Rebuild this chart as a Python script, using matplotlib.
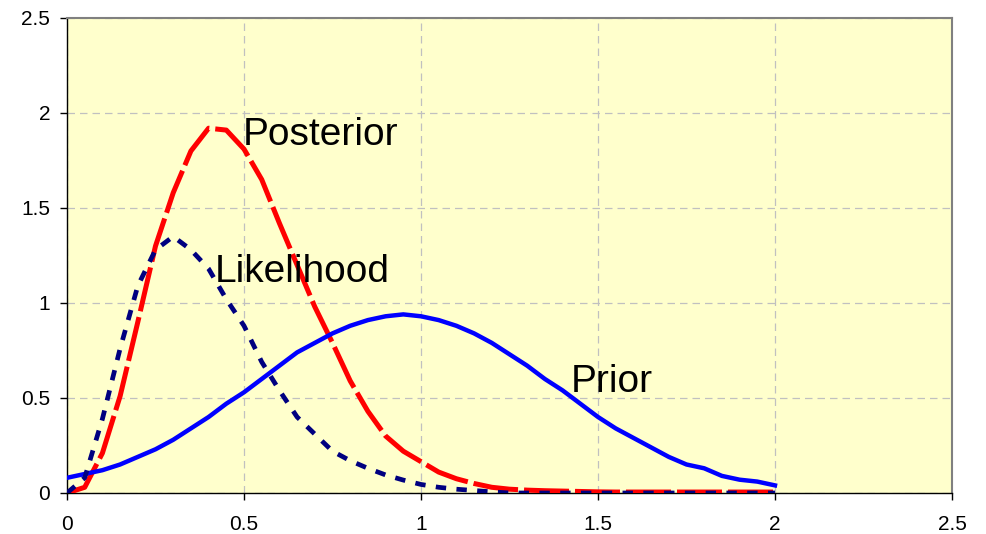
import numpy as np
import matplotlib.pyplot as plt

# x values (0 to 2 in steps of 0.05)
x = [i * 0.05 for i in range(41)]

prior = [0.08, 0.10, 0.12, 0.15, 0.19, 0.23, 0.28, 0.34, 0.40, 0.47,
         0.53, 0.60, 0.67, 0.74, 0.79, 0.84, 0.88, 0.91, 0.93, 0.94,
         0.93, 0.91, 0.88, 0.84, 0.79, 0.73, 0.67, 0.60, 0.54, 0.47,
         0.40, 0.34, 0.29, 0.24, 0.19, 0.15, 0.13, 0.09, 0.07, 0.06,
         0.04]

likelihood = [0.0, 0.08, 0.39, 0.76, 1.09, 1.28, 1.35, 1.28, 1.18, 1.02,
              0.88, 0.69, 0.54, 0.40, 0.31, 0.22, 0.17, 0.13, 0.095, 0.068,
              0.045, 0.03, 0.02, 0.013, 0.006, 0.0, 0.0, 0.0, 0.0, 0.0,
              0.0, 0.0, 0.0, 0.0, 0.0, 0.0, 0.0, 0.0, 0.0, 0.0,
              0.0]

posterior = [0.0, 0.03, 0.21, 0.51, 0.90, 1.30, 1.58, 1.80, 1.92, 1.91,
             1.81, 1.65, 1.42, 1.20, 0.98, 0.79, 0.59, 0.43, 0.30, 0.22,
             0.165, 0.11, 0.075, 0.05, 0.03, 0.02, 0.015, 0.012, 0.01, 0.008,
             0.006, 0.005, 0.005, 0.005, 0.005, 0.005, 0.005, 0.005, 0.005, 0.005,
             0.005]

plt.rcParams['font.family'] = ['Liberation Sans', 'DejaVu Sans']

fig = plt.figure(figsize=(9.87, 5.34), dpi=100)
ax = fig.add_axes([0.0679, 0.0768, 0.8966, 0.8895])
ax.set_facecolor('#FFFFCC')

ax.plot(x, posterior, color='#FF0000', lw=3.6, dashes=(9, 1.2), zorder=3)
ax.plot(x, prior, color='#0000FF', lw=3.2, zorder=4)
ax.plot(x, likelihood, color='#000080', lw=3.4, dashes=(2.2, 2.2), zorder=5)

ax.text(0.497, 1.83, 'Posterior', fontsize=28, ha='left', va='baseline')
ax.text(0.418, 1.11, 'Likelihood', fontsize=28, ha='left', va='baseline')
ax.text(1.424, 0.53, 'Prior', fontsize=28, ha='left', va='baseline')

ax.set_xlim(0, 2.5)
ax.set_ylim(0, 2.5)
ticks = [0, 0.5, 1, 1.5, 2, 2.5]
ax.set_xticks(ticks)
ax.set_yticks(ticks)
ax.set_xticklabels(['0', '0.5', '1', '1.5', '2', '2.5'])
ax.set_yticklabels(['0', '0.5', '1', '1.5', '2', '2.5'])
ax.tick_params(direction='out', length=5, width=1, labelsize=15, colors='black')
ax.tick_params(axis='x', pad=11)
ax.tick_params(axis='y', pad=7)

ax.grid(True, color='#C0C0C0', linestyle=(0, (6, 4)), linewidth=0.9, zorder=1)
ax.set_axisbelow(True)

for side in ['top', 'right']:
    ax.spines[side].set_color('#808080')
    ax.spines[side].set_linewidth(1.5)
for side in ['left', 'bottom']:
    ax.spines[side].set_color('black')
    ax.spines[side].set_linewidth(1.0)

fig.savefig('out.png', dpi=100)
